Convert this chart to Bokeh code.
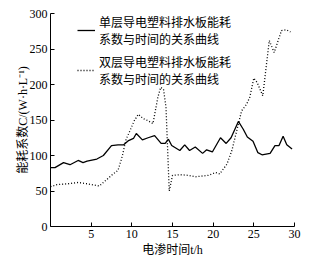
from bokeh.plotting import figure
from bokeh.models import Range1d, FixedTicker, Legend, LegendItem
from bokeh.embed import file_html
from bokeh.resources import INLINE

# data
x_single = [0, 0.55, 1.6, 2.4, 3.4, 4.0, 4.5, 5.7, 6.5, 7.5, 8.3, 9.0, 9.6, 10.2, 10.55,
            11.3, 12.0, 12.8, 13.6, 14.1, 14.5, 14.9, 15.9, 16.5, 17.1, 17.8, 18.7, 19.2,
            19.9, 20.9, 21.6, 22.2, 23.1, 23.7, 24.2, 24.9, 25.5, 26.0, 27.0, 27.6, 28.1,
            28.6, 29.05, 29.7]
y_single = [83, 83, 90, 87, 93, 90, 92, 95, 100, 114, 115, 115, 121, 124, 131,
            122, 125, 128, 117, 117, 123, 114, 107, 115, 107, 112, 103, 108,
            105, 125, 117, 125, 148, 137, 126, 120, 104, 101, 103, 114, 114,
            127, 115, 109]

x_double = [0, 0.8, 2.0, 3.4, 4.6, 6.0, 6.9, 7.7, 8.3, 8.8, 9.3, 9.7, 10.3, 10.8, 11.4,
            12.0, 12.6, 13.2, 13.55, 13.9, 14.2, 14.6, 15.0, 15.9, 17.0, 17.8, 19.4,
            20.3, 20.8, 21.7, 22.3, 22.9, 23.5, 24.1, 24.5, 25.0, 25.4, 26.1, 26.9,
            27.5, 28.4, 29.0, 29.5]
y_double = [56, 59, 60, 62, 60, 57, 66, 74, 79, 98, 123, 133, 149, 158, 152,
            149, 145, 182, 196, 193, 168, 50, 72, 73, 72, 70, 72,
            76, 74, 88, 107, 135, 163, 172, 182, 209, 203, 184, 262,
            245, 276, 277, 274]

x_ticks = [5, 10, 15, 20, 25, 30]
y_ticks = [0, 50, 100, 150, 200, 250, 300]

label_single = "单层导电塑料排水板能耗\n系数与时间的关系曲线"
label_double = "双层导电塑料排水板能耗\n系数与时间的关系曲线"
x_label = "电渗时间t/h"
y_label = "能耗系数C/(W·h·L⁻¹)"

FONT = "Liberation Serif, Noto Sans CJK SC"
CJK = "Noto Sans CJK SC"

p = figure(width=312, height=260, output_backend="svg", toolbar_location=None,
           x_range=Range1d(0, 30), y_range=Range1d(0, 300),
           min_border_left=50, min_border_right=18, min_border_top=13, min_border_bottom=34)
p.outline_line_color = None
p.grid.visible = False
p.background_fill_color = "white"
p.border_fill_color = "white"

r1 = p.line(x_single, y_single, line_color="black", line_width=1.3)
r2 = p.line(x_double, y_double, line_color="black", line_width=1.3, line_dash="1 2")

for ax in (p.xaxis[0], p.yaxis[0]):
    ax.major_tick_in = 4
    ax.major_tick_out = 0
    ax.minor_tick_line_color = None
    ax.axis_line_color = "black"
    ax.major_tick_line_color = "black"
    ax.major_label_text_font = FONT
    ax.major_label_text_font_size = "12px"
    ax.major_label_text_color = "black"
    ax.major_label_standoff = 3
    ax.axis_label_text_font = FONT
    ax.axis_label_text_font_size = "12px"
    ax.axis_label_text_font_style = "normal"
    ax.axis_label_text_color = "black"
    ax.axis_label_standoff = 2

p.xaxis[0].ticker = FixedTicker(ticks=x_ticks)
p.yaxis[0].ticker = FixedTicker(ticks=y_ticks)
p.xaxis[0].axis_label = x_label
p.yaxis[0].axis_label = y_label
p.yaxis[0].axis_label_standoff = -3

legend = Legend(items=[LegendItem(label=label_single, renderers=[r1]),
                       LegendItem(label=label_double, renderers=[r2])],
                location=(27, 139), padding=0, margin=0, spacing=6,
                glyph_width=18, label_standoff=4,
                label_text_font=CJK, label_text_font_size="12px",
                label_text_line_height=1.25, label_text_color="black",
                border_line_color=None, background_fill_alpha=0)
p.add_layout(legend)

open("out.html", "w").write(file_html(p, INLINE))
